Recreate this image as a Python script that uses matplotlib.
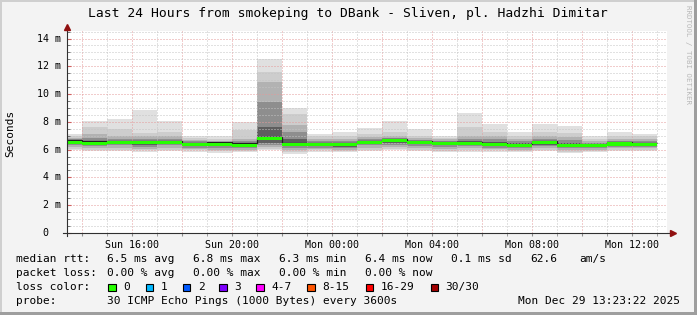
import matplotlib
matplotlib.use("Agg")
import matplotlib.pyplot as plt
from matplotlib.ticker import MultipleLocator, FuncFormatter, NullFormatter
from matplotlib.lines import Line2D
from matplotlib.patches import Rectangle

# ---------------- data ----------------
title = "Last 24 Hours from smokeping to DBank - Sliven, pl. Hadzhi Dimitar"
# end of each 1-hour column, in hours since Sunday 00:00
hour_end = list(range(14, 38))
t_start = 13 + 23 / 60 + 22 / 3600          # Sun 13:23:22
t_end = t_start + 24                         # Mon 13:23:22

# RTT values (ms): outer band (min/max) to inner bands, median
rtt_max = [7.10, 8.05, 8.20, 8.85, 8.05, 7.00, 7.00, 8.00, 12.55, 9.00, 7.15, 7.30,
           7.55, 8.05, 7.50, 7.00, 8.65, 7.85, 7.30, 7.85, 7.70, 7.00, 7.30, 7.15]
rtt_hi2 = [6.95, 7.60, 7.50, 7.20, 7.30, 6.85, 6.80, 7.40, 11.60, 8.60, 6.95, 7.00,
           7.10, 7.30, 7.00, 6.85, 7.60, 7.30, 7.00, 7.30, 7.20, 6.80, 7.00, 6.95]
rtt_hi3 = [6.85, 7.10, 7.00, 6.95, 6.95, 6.70, 6.65, 6.80, 10.90, 7.80, 6.80, 6.80,
           6.90, 7.00, 6.85, 6.75, 7.00, 6.95, 6.80, 6.95, 6.90, 6.65, 6.80, 6.80]
rtt_hi4 = [6.75, 6.85, 6.80, 6.75, 6.75, 6.60, 6.50, 6.60, 9.45, 7.30, 6.65, 6.65,
           6.75, 6.85, 6.70, 6.60, 6.80, 6.75, 6.60, 6.80, 6.70, 6.50, 6.65, 6.65]
rtt_hi5 = [6.65, 6.65, 6.65, 6.60, 6.60, 6.45, 6.45, 6.45, 7.65, 6.80, 6.50, 6.50,
           6.60, 6.75, 6.60, 6.50, 6.60, 6.55, 6.45, 6.65, 6.50, 6.40, 6.55, 6.50]
rtt_median = [6.55, 6.47, 6.52, 6.50, 6.50, 6.35, 6.40, 6.33, 6.80, 6.38, 6.38, 6.35,
              6.50, 6.64, 6.52, 6.45, 6.45, 6.38, 6.30, 6.50, 6.30, 6.30, 6.42, 6.38]
rtt_lo5 = [6.45, 6.35, 6.40, 6.35, 6.40, 6.25, 6.25, 6.20, 6.50, 6.25, 6.25, 6.20,
           6.40, 6.50, 6.40, 6.35, 6.35, 6.25, 6.20, 6.35, 6.20, 6.20, 6.30, 6.30]
rtt_lo4 = [6.35, 6.25, 6.30, 6.20, 6.30, 6.15, 6.10, 6.10, 6.30, 6.15, 6.15, 6.10,
           6.30, 6.35, 6.25, 6.20, 6.25, 6.15, 6.10, 6.25, 6.10, 6.10, 6.20, 6.20]
rtt_lo3 = [6.20, 6.15, 6.15, 6.05, 6.15, 6.05, 6.00, 6.00, 6.20, 6.00, 6.05, 6.00,
           6.15, 6.20, 6.10, 6.05, 6.10, 6.05, 6.00, 6.10, 5.95, 6.00, 6.10, 6.10]
rtt_lo2 = [6.05, 6.00, 6.00, 5.95, 6.00, 5.95, 5.90, 5.90, 6.05, 5.85, 5.95, 5.90,
           6.00, 6.05, 6.00, 5.90, 5.95, 5.95, 5.90, 6.00, 5.85, 5.90, 6.00, 6.00]
rtt_min = [5.95, 5.90, 5.90, 5.85, 5.90, 5.85, 5.75, 5.80, 5.95, 5.70, 5.85, 5.85,
           5.90, 5.95, 5.90, 5.80, 5.85, 5.85, 5.80, 5.90, 5.75, 5.80, 5.90, 5.90]

label_hours = [16, 20, 24, 28, 32, 36]
y_ticks = [0, 2, 4, 6, 8, 10, 12, 14]

stats_rtt = ["6.5 ms avg", "6.8 ms max", "6.3 ms min", "6.4 ms now", "0.1 ms sd", "62.6", "am/s"]
stats_loss = ["0.00 % avg", "0.00 % max", "0.00 % min", "0.00 % now"]
loss_labels = ["0", "1", "2", "3", "4-7", "8-15", "16-29", "30/30"]
loss_colors = ["#26ff00", "#00b8ff", "#0059ff", "#7e00ff", "#ff00ff", "#ff5500", "#ff0000", "#a10000"]
probe_text = "30 ICMP Echo Pings (1000 Bytes) every 3600s"
date_text = "Mon Dec 29 13:23:22 2025"

# ---------------- figure ----------------
W, H = 697, 315
MONO = "DejaVu Sans Mono"
plt.rcParams["font.family"] = MONO
fig = plt.figure(figsize=(W / 100, H / 100), dpi=100, facecolor="#f3f3f3")

def fx(x):
    return x / W

def fy(y):
    return 1 - y / H

# plot area in pixels
L, R, T, B = 67, 667, 31, 233
ax = fig.add_axes([fx(L), fy(B), (R - L) / W, (B - T) / H])
ax.set_facecolor("white")
ax.set_xlim(t_start, t_end)
ax.set_ylim(0, 14.54)

edges = [h - 1 for h in hour_end] + [hour_end[-1]]
bands = [
    (rtt_min, rtt_max, "#e0e0e0"),
    (rtt_lo2, rtt_hi2, "#cdcdcd"),
    (rtt_lo3, rtt_hi3, "#b2b2b2"),
    (rtt_lo4, rtt_hi4, "#8e8e8e"),
    (rtt_lo5, rtt_hi5, "#5e5e5e"),
]
for lo, hi, col in bands:
    ax.stairs(hi, edges, baseline=lo, fill=True, color=col, lw=0, zorder=1)

# median: dark line plus green (loss 0) band
px = 14.54 / (B - T)
ax.stairs([m + 1.7 * px for m in rtt_median], edges, color="#202020", lw=0.9, zorder=3,
          baseline=None)
ax.stairs([m + 1.5 * px for m in rtt_median], edges,
          baseline=[m - 1.7 * px for m in rtt_median], fill=True,
          color=loss_colors[0], lw=0, zorder=4)

# grid
ax.xaxis.set_major_locator(MultipleLocator(2))
ax.xaxis.set_minor_locator(MultipleLocator(1))
ax.yaxis.set_major_locator(MultipleLocator(2))
ax.yaxis.set_minor_locator(MultipleLocator(0.5))
dots = (0, (1, 2))
ax.grid(which="minor", color="#c4c4c4", lw=0.72, linestyle=dots, zorder=2)
ax.grid(which="major", color="#e49a9a", lw=0.72, linestyle=dots, zorder=2)
ax.set_axisbelow(False)

def xfmt(v, pos):
    h = int(round(v))
    if h in label_hours:
        day = "Sun" if h < 24 else "Mon"
        return f"{day} {h % 24:02d}:00"
    return ""

ax.xaxis.set_major_formatter(FuncFormatter(xfmt))
ax.yaxis.set_major_formatter(NullFormatter())
ax.tick_params(axis="x", which="both", labelsize=7.2, pad=3, length=2,
               color="#909090", direction="out", labelcolor="black")
ax.tick_params(axis="y", which="major", length=3, color="#d06060", direction="in")
ax.tick_params(axis="y", which="minor", length=2, color="#606060", direction="in")

for s in ax.spines.values():
    s.set_visible(False)

# axes lines with arrows
fig.add_artist(Line2D([fx(L), fx(L)], [fy(B + 3), fy(T - 4)], color="#303030", lw=0.8))
fig.add_artist(Line2D([fx(L - 4), fx(R + 5)], [fy(B), fy(B)], color="#303030", lw=0.8))
fig.add_artist(Line2D([fx(L)], [fy(T - 4)], marker="^", markersize=4.5,
                      color="#901010", lw=0))
fig.add_artist(Line2D([fx(R + 6)], [fy(B)], marker=">", markersize=4.5,
                      color="#901010", lw=0))

# y tick labels
for v in y_ticks:
    yp = B - v / px
    if v == 0:
        fig.text(fx(48.5), fy(yp), "0", ha="right", va="center", fontsize=7.2)
    else:
        fig.text(fx(60.5), fy(yp), f"{v} m", ha="right", va="center", fontsize=7.2)

# title and axis label
fig.text(fx(348), fy(13), title, ha="center", va="center", fontsize=9.4)
fig.text(fx(10), fy(133), "Seconds", rotation=90, ha="center", va="center", fontsize=8)
fig.text(fx(688), fy(5), "RRDTOOL / TOBI OETIKER", rotation=-90, ha="center",
         va="top", fontsize=5.3, color="#b8b8b8")

# legend
LF = 8.0
row_y = [259.3, 273.3, 287, 301]
fig.text(fx(16), fy(row_y[0]), "median rtt:", ha="left", va="center", fontsize=LF)
for x, s in zip([107, 193.3, 279.3, 365, 451, 530, 579.3], stats_rtt):
    fig.text(fx(x), fy(row_y[0]), s, ha="left", va="center", fontsize=LF)
fig.text(fx(16), fy(row_y[1]), "packet loss:", ha="left", va="center", fontsize=LF)
for x, s in zip([107, 193.3, 279.3, 365], stats_loss):
    fig.text(fx(x), fy(row_y[1]), s, ha="left", va="center", fontsize=LF)
fig.text(fx(16), fy(row_y[2]), "loss color:", ha="left", va="center", fontsize=LF)
box_x = [108.3, 145.7, 182.7, 219.3, 256, 307.3, 365.7, 430.7]
for bx, lab, col in zip(box_x, loss_labels, loss_colors):
    fig.add_artist(Rectangle((fx(bx), fy(row_y[2] + 4)), 7.5 / W, 7.5 / H,
                             facecolor=col, edgecolor="black", lw=0.8))
    fig.text(fx(bx + 15), fy(row_y[2]), lab, ha="left", va="center", fontsize=LF)
fig.text(fx(16), fy(row_y[3]), "probe:", ha="left", va="center", fontsize=LF)
fig.text(fx(107), fy(row_y[3]), probe_text, ha="left", va="center", fontsize=LF)
fig.text(fx(680), fy(row_y[3]), date_text, ha="right", va="center", fontsize=LF)

# frame
fig.add_artist(Rectangle((0, 0), 2 / W, 1, facecolor="#cfcfcf", lw=0))
fig.add_artist(Rectangle((0, 1 - 2 / H), 1, 2 / H, facecolor="#cfcfcf", lw=0))
fig.add_artist(Rectangle((1 - 3 / W, 0), 3 / W, 1, facecolor="#9e9e9e", lw=0))
fig.add_artist(Rectangle((0, 0), 1, 3 / H, facecolor="#9e9e9e", lw=0))

fig.savefig("out.png", dpi=100, facecolor=fig.get_facecolor())
